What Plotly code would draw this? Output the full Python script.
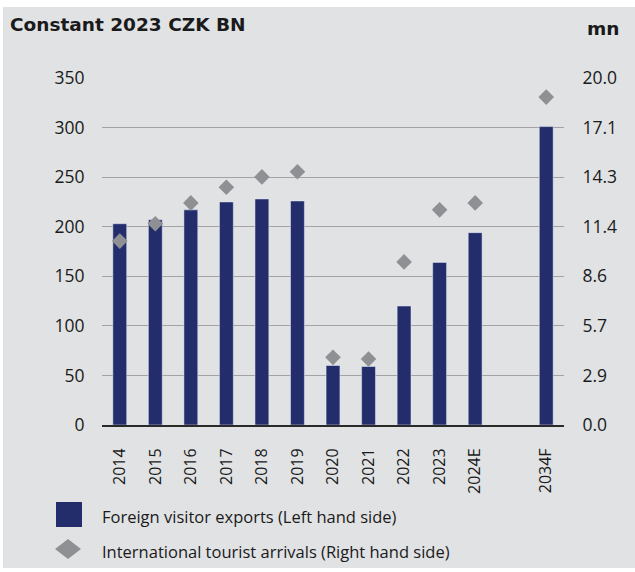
import plotly.graph_objects as go

# ---- data ----
years = ["2014", "2015", "2016", "2017", "2018", "2019", "2020", "2021",
         "2022", "2023", "2024E", " ", "2034F"]
exports_czk_bn = [203, 207, 217, 225, 228, 226, 60, 59, 120, 164, 194, None, 301]
arrivals_mn = [10.6, 11.6, 12.8, 13.7, 14.3, 14.6, 3.9, 3.8, 9.4, 12.4, 12.8, None, 18.9]
left_ticks = [0, 50, 100, 150, 200, 250, 300, 350]
right_tick_text = ["0.0", "2.9", "5.7", "8.6", "11.4", "14.3", "17.1", "20.0"]

NAVY = "#232d6b"
GREY_MK = "#8f9094"
BG = "#e1e2e4"
FONT = "Open Sans"
TITLE_FONT = "DejaVu Sans"
TXT = "#1a1a1a"

W, H = 635, 572
ML, MR, MT, MB = 102, 71, 78, 147
PW, PH = W - ML - MR, H - MT - MB


def px(x):
    return (x - ML) / PW


def py(y):
    return (H - MB - y) / PH


fig = go.Figure()
fig.add_trace(go.Bar(
    x=years, y=exports_czk_bn, marker_color=NAVY, width=0.39,
    name="Foreign visitor exports (Left hand side)", showlegend=False,
))
fig.add_trace(go.Scatter(
    x=years, y=arrivals_mn, mode="markers", yaxis="y2",
    marker=dict(symbol="diamond", size=12, color=GREY_MK),
    name="International tourist arrivals (Right hand side)", showlegend=False,
))

shapes = [
    dict(type="rect", xref="paper", yref="paper", layer="below",
         x0=px(3), x1=px(635), y0=py(568), y1=py(7),
         fillcolor=BG, line=dict(width=0)),
    dict(type="rect", xref="paper", yref="paper",
         x0=px(56), x1=px(82), y0=py(527), y1=py(502),
         fillcolor=NAVY, line=dict(width=0)),
    dict(type="path", xref="paper", yref="paper",
         path=f"M {px(55)},{py(549)} L {px(68)},{py(539)} L {px(81)},{py(549)} L {px(68)},{py(559)} Z",
         fillcolor=GREY_MK, line=dict(width=0)),
]

annotations = [
    dict(text="<b>Constant 2023 CZK BN</b>", xref="paper", yref="paper",
         x=px(8), y=py(25), xanchor="left", yanchor="middle", showarrow=False,
         font=dict(size=18.5, color=TXT, family=TITLE_FONT)),
    dict(text="<b>mn</b>", xref="paper", yref="paper",
         x=px(621), y=py(29), xanchor="right", yanchor="middle", showarrow=False,
         font=dict(size=18.5, color=TXT, family=TITLE_FONT)),
    dict(text="Foreign visitor exports (Left hand side)", xref="paper", yref="paper",
         x=px(100), y=py(516), xanchor="left", yanchor="middle", showarrow=False,
         font=dict(size=16.5, color=TXT, family=FONT)),
    dict(text="International tourist arrivals (Right hand side)", xref="paper", yref="paper",
         x=px(100), y=py(551), xanchor="left", yanchor="middle", showarrow=False,
         font=dict(size=16.5, color=TXT, family=FONT)),
]

fig.update_layout(
    width=W, height=H,
    margin=dict(l=ML, r=MR, t=MT, b=MB, pad=0),
    paper_bgcolor="white", plot_bgcolor="rgba(0,0,0,0)",
    font=dict(family=FONT, size=17, color=TXT),
    shapes=shapes, annotations=annotations,
    xaxis=dict(
        type="category", categoryorder="array", categoryarray=years,
        range=[-0.5, len(years) - 0.5],
        tickangle=-90, showgrid=False, zeroline=False,
        showline=True, linecolor="#2a2a2a", linewidth=2,
        ticks="outside", ticklen=15, tickcolor="rgba(0,0,0,0)",
        tickfont=dict(size=16),
    ),
    yaxis=dict(
        range=[0, 350], tickvals=left_ticks, showgrid=True,
        gridcolor="#a3a3a5", gridwidth=1, zeroline=False, showline=False,
        ticks="outside", ticklen=13, tickcolor="rgba(0,0,0,0)",
        tickfont=dict(size=17.5),
    ),
    yaxis2=dict(
        overlaying="y", side="right", range=[0, 20],
        tickvals=[i * 20 / 7 for i in range(8)], ticktext=right_tick_text,
        showgrid=False, zeroline=False, showline=False,
        ticks="outside", ticklen=14, tickcolor="rgba(0,0,0,0)",
        tickfont=dict(size=17.5),
    ),
)

fig.write_html(
    "out.html",
    config={"displayModeBar": False},
    post_script="document.body.style.margin='0';document.body.style.padding='0';",
)
